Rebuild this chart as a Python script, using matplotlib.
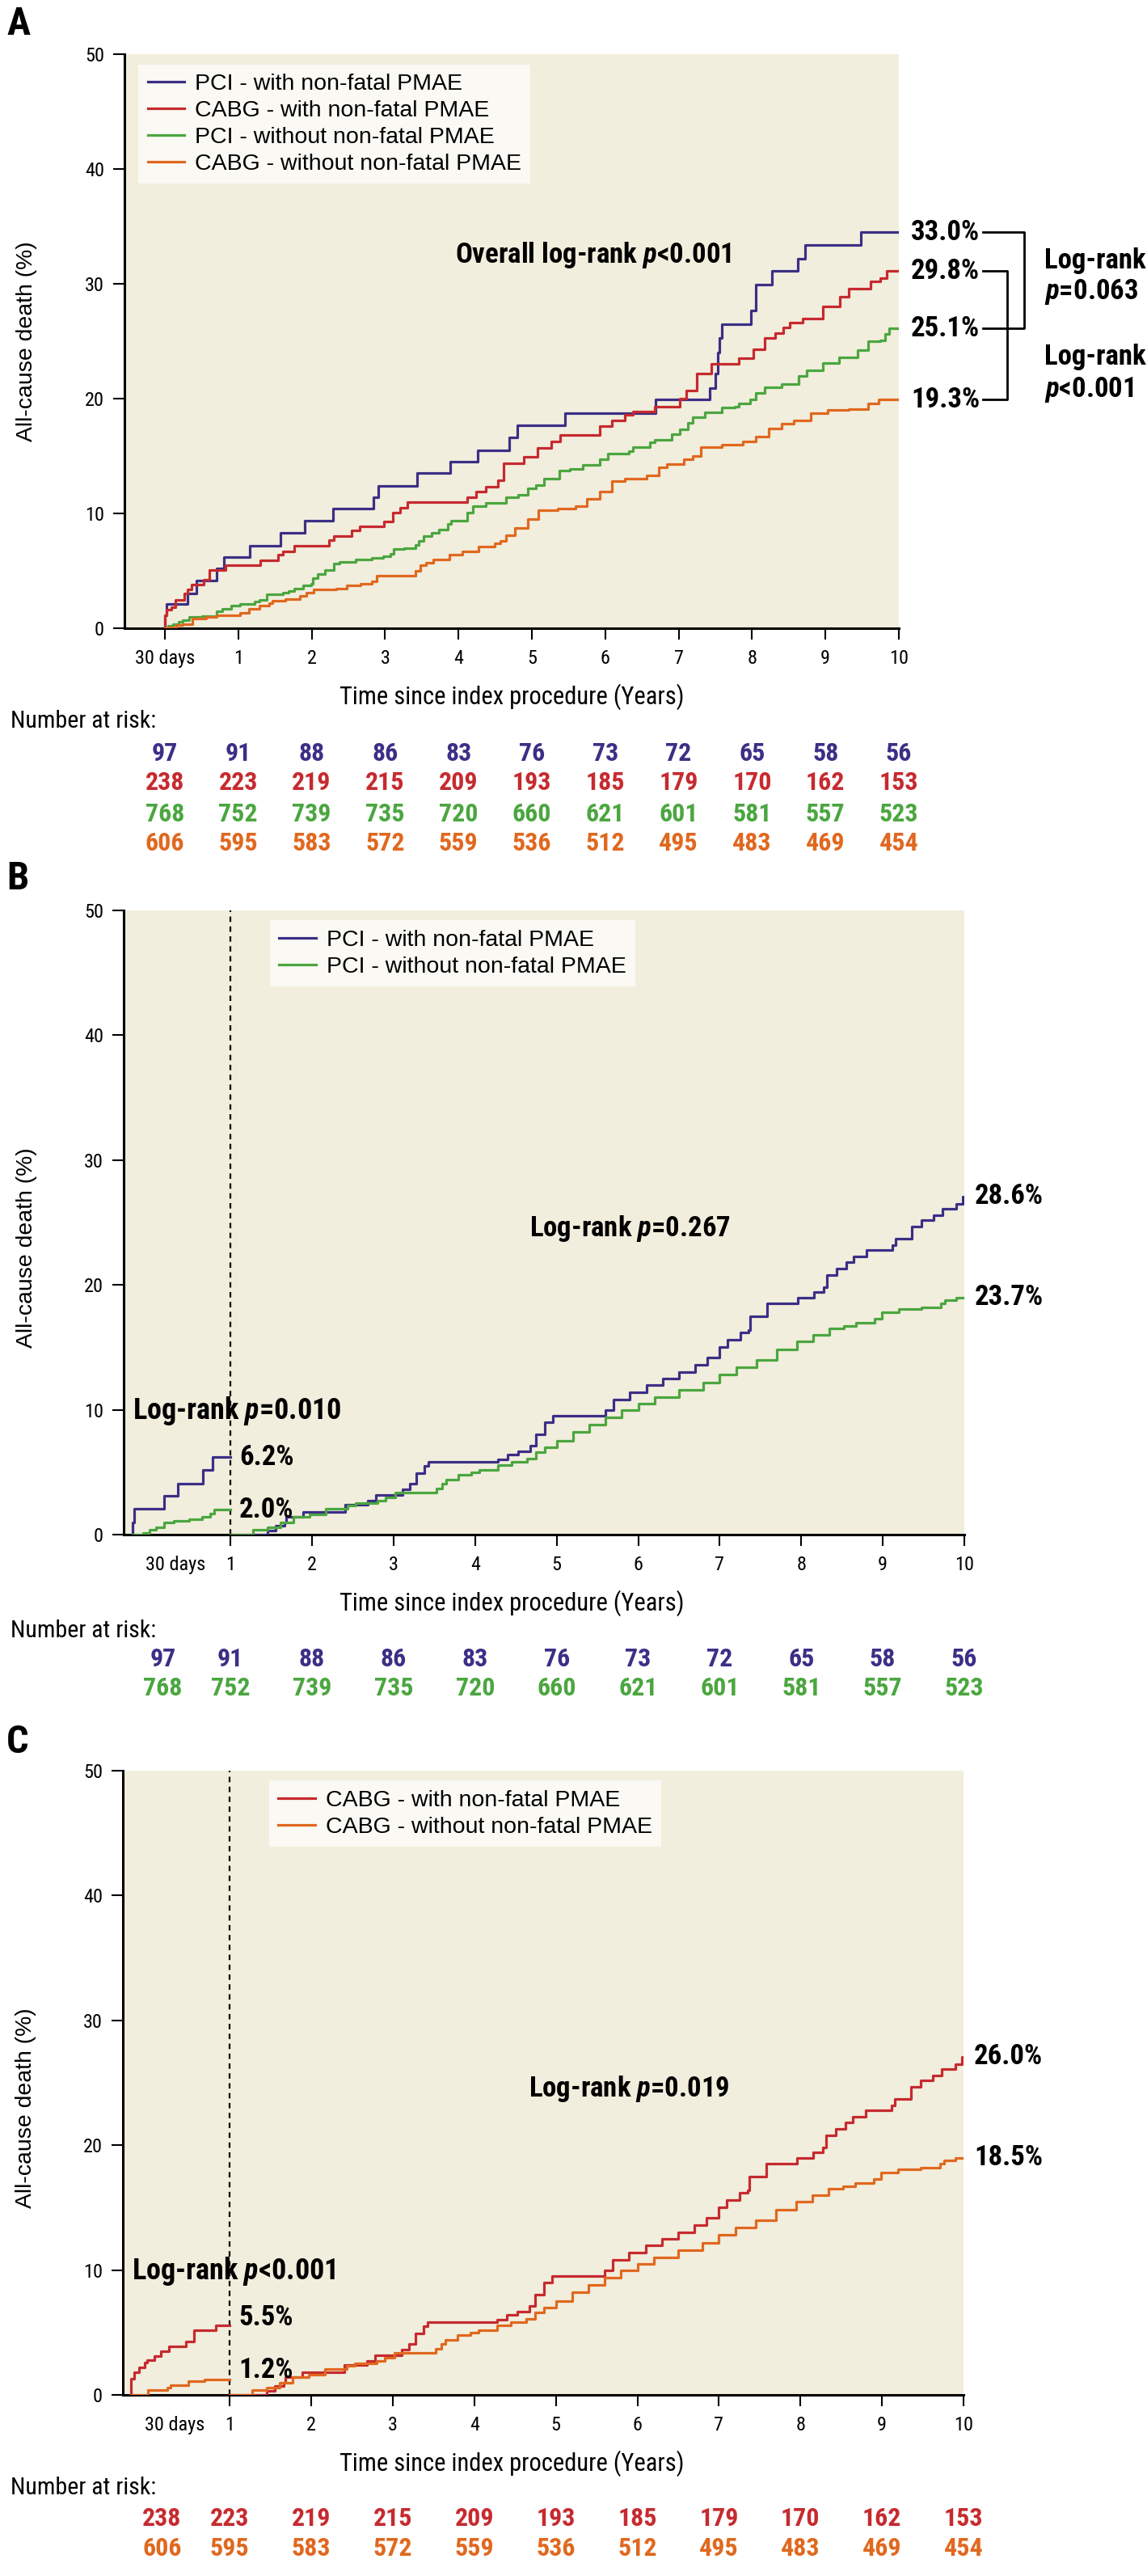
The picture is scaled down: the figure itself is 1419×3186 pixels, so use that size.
import matplotlib
matplotlib.use('Agg')
import matplotlib.pyplot as plt
from matplotlib import font_manager, transforms

installed = {f.name for f in font_manager.fontManager.ttflist}
NARROW = next((n for n in ['Liberation Sans Narrow', 'Roboto Condensed', 'Open Sans Condensed',
                           'Noto Sans Condensed', 'DejaVu Sans Condensed'] if n in installed), 'DejaVu Sans')
REGULAR = 'Liberation Sans' if 'Liberation Sans' in installed else 'DejaVu Sans'

plt.rcParams['font.family'] = [NARROW, 'DejaVu Sans']
plt.rcParams['mathtext.fontset'] = 'custom'
plt.rcParams['mathtext.it'] = NARROW + ':italic:bold'
plt.rcParams['mathtext.rm'] = NARROW + ':bold'

BLUE = '#3B2F86'
RED = '#C62A2F'
GREEN = '#4BA640'
ORANGE = '#E0681F'
BG = '#F2EEDD'
LEGBG = '#FAF9F3'

# ---- data (time in years, cumulative death %) ----
labels_all = ['PCI - with non-fatal PMAE', 'CABG - with non-fatal PMAE',
              'PCI - without non-fatal PMAE', 'CABG - without non-fatal PMAE']

# panel A, from 30 days (x=0) to 10 years
a_pci_with_t = [0.0, 0.02, 0.31, 0.43, 0.70, 0.80, 1.16, 1.58, 1.91, 2.29, 2.84, 2.91, 3.44, 3.89, 4.26,
                4.69, 4.80, 5.45, 6.68, 7.42, 7.50, 7.53, 7.56, 7.59, 7.98, 8.05, 8.27, 8.62, 8.72, 9.48]
a_pci_with_v = [1.1, 2.1, 3.0, 4.15, 5.2, 6.2, 7.2, 8.3, 9.4, 10.4, 11.4, 12.4, 13.5, 14.5, 15.5,
                16.6, 17.7, 18.7, 19.9, 20.9, 22.2, 24.0, 25.3, 26.5, 27.7, 29.9, 31.1, 32.2, 33.4, 34.5]

a_cabg_with_t = [0.0, 0.02, 0.09, 0.14, 0.26, 0.31, 0.36, 0.53, 0.61, 0.83, 1.30, 1.54, 1.61, 1.76, 2.24,
                 2.30, 2.55, 2.65, 2.98, 3.11, 3.20, 3.30, 4.12, 4.24, 4.37, 4.54, 4.62, 4.89, 5.08, 5.26,
                 5.39, 5.92, 6.09, 6.27, 6.38, 6.67, 7.02, 7.10, 7.25, 7.45, 7.82, 8.02, 8.17, 8.31, 8.43,
                 8.51, 8.69, 8.97, 9.20, 9.32, 9.61, 9.75, 9.84]
a_cabg_with_v = [1.1, 1.6, 1.8, 2.5, 3.0, 3.35, 3.8, 4.2, 5.1, 5.5, 5.9, 6.4, 6.7, 7.2, 7.7,
                 8.0, 8.5, 8.9, 9.3, 10.1, 10.5, 11.0, 11.4, 11.9, 12.3, 12.9, 14.4, 14.9, 15.7, 16.3,
                 16.8, 17.6, 18.1, 18.6, 18.9, 19.3, 20.0, 20.7, 22.2, 23.0, 23.5, 24.3, 25.3, 25.7, 26.2,
                 26.6, 27.0, 28.0, 28.9, 29.6, 30.2, 30.5, 31.1]

a_pci_wo_t = [0.04, 0.11, 0.19, 0.24, 0.33, 0.51, 0.70, 0.78, 0.90, 1.02, 1.22, 1.29, 1.39, 1.61, 1.69,
              1.76, 1.88, 1.99, 2.02, 2.08, 2.18, 2.30, 2.38, 2.60, 2.82, 2.97, 3.07, 3.12, 3.26, 3.41,
              3.46, 3.53, 3.63, 3.73, 3.85, 3.90, 4.12, 4.20, 4.37, 4.65, 4.81, 4.94, 5.06, 5.17, 5.37,
              5.52, 5.69, 5.92, 6.04, 6.32, 6.38, 6.61, 6.67, 6.90, 7.02, 7.13, 7.19, 7.36, 7.59, 7.76,
              7.82, 7.97, 8.05, 8.17, 8.40, 8.63, 8.74, 8.97, 9.18, 9.44, 9.58, 9.75, 9.81, 9.87]
a_pci_wo_v = [0.2, 0.33, 0.58, 0.7, 0.96, 1.08, 1.46, 1.71, 1.96, 2.09, 2.29, 2.47, 2.97, 3.09, 3.22,
              3.47, 3.72, 3.85, 4.35, 4.73, 5.1, 5.6, 5.8, 6.0, 6.16, 6.24, 6.5, 6.87, 7.0, 7.25,
              7.6, 8.0, 8.3, 8.6, 9.1, 9.4, 10.1, 10.6, 10.9, 11.4, 11.6, 12.2, 12.5, 13.0, 13.7,
              13.9, 14.2, 14.7, 15.2, 15.4, 15.8, 16.2, 16.4, 16.9, 17.3, 17.9, 18.4, 18.8, 19.2, 19.3,
              19.6, 19.9, 20.5, 21.0, 21.3, 22.0, 22.5, 23.1, 23.6, 24.2, 25.0, 25.1, 25.6, 26.1]

a_cabg_wo_t = [0.06, 0.16, 0.24, 0.38, 0.56, 0.70, 1.02, 1.15, 1.29, 1.42, 1.47, 1.64, 1.84, 1.93, 2.03,
               2.33, 2.48, 2.67, 2.82, 2.89, 3.41, 3.48, 3.56, 3.66, 3.88, 4.05, 4.27, 4.49, 4.57, 4.65,
               4.77, 4.94, 5.09, 5.35, 5.60, 5.75, 5.92, 6.09, 6.27, 6.56, 6.73, 6.84, 7.07, 7.19, 7.30,
               7.59, 7.88, 8.05, 8.23, 8.40, 8.57, 8.80, 9.03, 9.32, 9.58, 9.73]
a_cabg_wo_v = [0.1, 0.25, 0.38, 0.83, 0.96, 1.13, 1.33, 1.71, 1.96, 2.21, 2.39, 2.54, 2.84, 3.09, 3.35,
               3.47, 3.72, 3.85, 4.1, 4.6, 5.0, 5.5, 5.7, 6.0, 6.4, 6.7, 7.1, 7.4, 7.6, 8.1,
               8.75, 9.5, 10.3, 10.4, 10.6, 11.3, 11.9, 12.8, 13.0, 13.3, 14.0, 14.3, 14.7, 15.0, 15.8,
               16.0, 16.3, 16.7, 17.4, 17.8, 18.1, 18.7, 19.0, 19.1, 19.6, 19.9]

# panel B, first segment up to 1 year, then landmark restart at 1 year
b_with_early_t = [-0.2, -0.18, 0.19, 0.35, 0.66, 0.78]
b_with_early_v = [1.0, 2.1, 3.1, 4.1, 5.2, 6.2]
b_wo_early_t = [-0.07, 0.01, 0.09, 0.19, 0.30, 0.49, 0.65, 0.75, 0.80]
b_wo_early_v = [0.1, 0.4, 0.6, 1.0, 1.1, 1.2, 1.4, 1.7, 2.0]

b_with_late_t = [1.45, 1.55, 1.66, 1.68, 1.89, 2.41, 2.68, 2.78, 3.11, 3.20, 3.28, 3.38, 3.43, 4.28, 4.40,
                 4.53, 4.68, 4.75, 4.85, 4.95, 5.60, 5.70, 5.90, 6.10, 6.30, 6.50, 6.70, 6.85, 7.00, 7.10,
                 7.25, 7.35, 7.37, 7.58, 7.96, 8.16, 8.28, 8.31, 8.43, 8.55, 8.64, 8.80, 9.12, 9.16, 9.36,
                 9.47, 9.62, 9.73, 9.90, 9.98]
b_with_late_v = [0.3, 0.7, 1.0, 1.4, 1.8, 2.4, 2.7, 3.2, 3.6, 4.1, 4.9, 5.5, 5.8, 6.0, 6.4,
                 6.7, 7.1, 8.0, 9.0, 9.5, 10.0, 10.8, 11.4, 12.0, 12.5, 13.0, 13.6, 14.2, 15.0, 15.6,
                 16.2, 16.4, 17.5, 18.5, 19.0, 19.4, 19.8, 20.8, 21.3, 21.8, 22.3, 22.8, 23.2, 23.7, 24.7,
                 25.2, 25.6, 26.1, 26.5, 27.1]
b_wo_late_t = [1.28, 1.45, 1.61, 1.77, 1.97, 2.17, 2.44, 2.54, 2.80, 2.90, 3.02, 3.53, 3.60, 3.65, 3.79,
               3.95, 4.05, 4.28, 4.45, 4.64, 4.75, 4.85, 5.00, 5.20, 5.40, 5.60, 5.80, 6.00, 6.20, 6.50,
               6.80, 7.00, 7.20, 7.45, 7.70, 7.95, 8.15, 8.34, 8.52, 8.67, 8.90, 8.99, 9.20, 9.47, 9.71,
               9.76, 9.90]
b_wo_late_v = [0.4, 0.6, 1.0, 1.4, 1.6, 2.1, 2.3, 2.5, 2.7, 3.0, 3.4, 3.7, 4.1, 4.4, 4.8,
               5.0, 5.2, 5.6, 5.8, 6.1, 6.6, 7.0, 7.5, 8.2, 8.8, 9.4, 10.0, 10.5, 11.0, 11.6,
               12.2, 12.8, 13.4, 14.0, 14.8, 15.5, 16.0, 16.5, 16.7, 17.0, 17.3, 17.8, 18.1, 18.2, 18.5,
               18.8, 19.0]

# panel C
c_with_early_t = [-0.21, -0.17, -0.11, -0.04, -0.01, 0.08, 0.16, 0.26, 0.46, 0.56, 0.83]
c_with_early_v = [1.3, 1.8, 2.2, 2.6, 2.8, 3.1, 3.5, 3.9, 4.3, 5.2, 5.6]
c_wo_early_t = [0.0, 0.24, 0.27, 0.49, 0.69]
c_wo_early_v = [0.4, 0.6, 0.8, 1.1, 1.2]
# after 1 year the source draws the same curves as in panel B
c_with_late_t, c_with_late_v = b_with_late_t, b_with_late_v
c_wo_late_t, c_wo_late_v = b_wo_late_t, b_wo_late_v

# number at risk
risk_pci_with = [97, 91, 88, 86, 83, 76, 73, 72, 65, 58, 56]
risk_cabg_with = [238, 223, 219, 215, 209, 193, 185, 179, 170, 162, 153]
risk_pci_wo = [768, 752, 739, 735, 720, 660, 621, 601, 581, 557, 523]
risk_cabg_wo = [606, 595, 583, 572, 559, 536, 512, 495, 483, 469, 454]

end_labels_a = ['33.0%', '29.8%', '25.1%', '19.3%']

# ---- figure ----
W, H = 1419, 3186
fig = plt.figure(figsize=(W / 100, H / 100), dpi=100)


def box(l, t, r, b):
    return [l / W, 1 - b / H, (r - l) / W, (b - t) / H]


def fy(y):
    return 1 - y / H


axA = fig.add_axes(box(154, 67, 1112, 777))
axB = fig.add_axes(box(153, 1126, 1193, 1898))
axC = fig.add_axes(box(152, 2190, 1192, 2962))


def style(ax, xmin):
    ax.set_facecolor(BG)
    ax.set_xlim(xmin, 10)
    ax.set_ylim(0, 50)
    for s in ('top', 'right'):
        ax.spines[s].set_visible(False)
    for s in ('left', 'bottom'):
        ax.spines[s].set_linewidth(2.2)
    ax.set_yticks(range(0, 51, 10))
    ax.tick_params(length=10, width=1.5, labelsize=17.5, direction='out')
    ax.tick_params(axis='x', pad=9)
    ax.tick_params(axis='y', pad=8)
    ax.set_ylabel('All-cause death (%)', family=REGULAR, fontsize=20.4)


def km(ax, t0, t, v, t1, color, label=None):
    x = [t0] + list(t) + [t1]
    y = [0] + list(v) + [v[-1]]
    line, = ax.step(x, y, where='post', color=color, lw=2.3, label=label, zorder=3)
    return line


def legend(ax, x, y):
    ax.legend(loc='upper left', bbox_to_anchor=(x, y), borderaxespad=0, frameon=True,
              fancybox=False, facecolor=LEGBG, edgecolor='none', framealpha=1,
              prop={'family': REGULAR, 'size': 20.5}, handlelength=1.6, handletextpad=0.45,
              labelspacing=0.24, borderpad=0.4)


def risk_rows(ax, xs, rows, ys):
    tr = transforms.blended_transform_factory(ax.transData, fig.transFigure)
    for (vals, color), y in zip(rows, ys):
        for x, n in zip(xs, vals):
            ax.text(x, fy(y), str(n), transform=tr, ha='center', va='center', color=color,
                    fontsize=23, fontweight='bold', clip_on=False)


BOLD = dict(fontweight='bold', color='black')

# ---- panel A ----
style(axA, -0.55)
axA.set_xticks(range(11))
axA.set_xticklabels(['30 days'] + [str(i) for i in range(1, 11)])
curvesA = [(a_pci_with_t, a_pci_with_v, BLUE), (a_cabg_with_t, a_cabg_with_v, RED),
           (a_pci_wo_t, a_pci_wo_v, GREEN), (a_cabg_wo_t, a_cabg_wo_v, ORANGE)]
for (t, v, c), lab in zip(curvesA, labels_all):
    km(axA, 0, t, v, 10, c, lab)
legend(axA, 0.018, 0.982)
axA.yaxis.set_label_coords(-0.113, 0.5)

offA = transforms.offset_copy(axA.transData, fig, x=15, y=0, units='dots')
ends = [c[1][-1] for c in curvesA]
for val, txt in zip(ends, end_labels_a):
    axA.text(10, val, txt, transform=offA, ha='left', va='center', fontsize=25, clip_on=False, **BOLD)

brA = transforms.blended_transform_factory(fig.transFigure, axA.transData)
x1, x2, x3 = (1112 + 104) / W, (1112 + 155) / W, (1112 + 134) / W
axA.plot([x1, x2, x2, x1], [ends[0], ends[0], ends[2], ends[2]], color='black', lw=2.0,
         transform=brA, clip_on=False)
axA.plot([x1, x3, x3, x1], [ends[1], ends[1], ends[3], ends[3]], color='black', lw=2.0,
         transform=brA, clip_on=False)
xt = 1292 / W
axA.text(xt, 32.0, 'Log-rank', transform=brA, ha='left', va='center', fontsize=25, **BOLD)
axA.text(xt, 29.3, r'$\mathit{p}$=0.063', transform=brA, ha='left', va='center', fontsize=25, **BOLD)
axA.text(xt, 23.6, 'Log-rank', transform=brA, ha='left', va='center', fontsize=25, **BOLD)
axA.text(xt, 20.8, r'$\mathit{p}$<0.001', transform=brA, ha='left', va='center', fontsize=25, **BOLD)
axA.text(3.95, 32.5, r'Overall log-rank $\mathit{p}$<0.001', ha='left', va='center', fontsize=25, **BOLD)

fig.text(8 / W, fy(30), 'A', ha='left', va='center', fontsize=35, fontweight='bold')
fig.text(633 / W, fy(862), 'Time since index procedure (Years)', ha='center', va='center', fontsize=22)
fig.text(13 / W, fy(892), 'Number at risk:', ha='left', va='center', fontsize=21.5)
risk_rows(axA, range(11), [(risk_pci_with, BLUE), (risk_cabg_with, RED),
                           (risk_pci_wo, GREEN), (risk_cabg_wo, ORANGE)], [932, 968, 1007, 1043])


# ---- panels B and C ----
def landmark_panel(ax, letter, ly, early, late, colors, labs, first_logrank, late_logrank,
                   early_labels, end_labels, rows, row_y, xlab_y, nar_y):
    style(ax, -0.31)
    ax.set_xticks([0.33] + list(range(1, 11)))
    ax.set_xticklabels(['30 days'] + [str(i) for i in range(1, 11)])
    ax.xaxis.get_major_ticks()[0].tick1line.set_visible(False)
    ax.axvline(1, color='black', lw=1.6, ls=(0, (3, 2.5)), zorder=2)
    t_start = early[0][0][0]
    for (t, v), (tl, vl), c, lab in zip(early, late, colors, labs):
        km(ax, t_start, t, v, 1.0, c, lab)
        km(ax, 1.0, tl, vl, 10, c)
    legend(ax, 0.174, 0.984)
    ax.yaxis.set_label_coords(-0.103, 0.46)
    ax.text(-0.2, 9.9, first_logrank, ha='left', va='center', fontsize=26, **BOLD)
    ax.text(1.11, 6.2, early_labels[0], ha='left', va='center', fontsize=25, **BOLD)
    ax.text(1.11, 2.0, early_labels[1], ha='left', va='center', fontsize=25, **BOLD)
    ax.text(5.9, 24.5, late_logrank, ha='center', va='center', fontsize=25, **BOLD)
    off = transforms.offset_copy(ax.transData, fig, x=13, y=0, units='dots')
    for (tl, vl), txt in zip(late, end_labels):
        ax.text(10, vl[-1], txt, transform=off, ha='left', va='center', fontsize=25,
                clip_on=False, **BOLD)
    fig.text(8 / W, fy(ly), letter, ha='left', va='center', fontsize=35, fontweight='bold')
    fig.text(633 / W, fy(xlab_y), 'Time since index procedure (Years)', ha='center', va='center',
             fontsize=22)
    fig.text(13 / W, fy(nar_y), 'Number at risk:', ha='left', va='center', fontsize=21.5)
    risk_rows(ax, [0.17] + list(range(1, 11)), rows, row_y)


landmark_panel(axB, 'B', 1087,
               [(b_with_early_t, b_with_early_v), (b_wo_early_t, b_wo_early_v)],
               [(b_with_late_t, b_with_late_v), (b_wo_late_t, b_wo_late_v)],
               [BLUE, GREEN], [labels_all[0], labels_all[2]],
               r'Log-rank $\mathit{p}$=0.010', r'Log-rank $\mathit{p}$=0.267',
               ['6.2%', '2.0%'], ['28.6%', '23.7%'],
               [(risk_pci_with, BLUE), (risk_pci_wo, GREEN)], [2052, 2088], 1983, 2017)

landmark_panel(axC, 'C', 2155,
               [(c_with_early_t, c_with_early_v), (c_wo_early_t, c_wo_early_v)],
               [(c_with_late_t, c_with_late_v), (c_wo_late_t, c_wo_late_v)],
               [RED, ORANGE], [labels_all[1], labels_all[3]],
               r'Log-rank $\mathit{p}$<0.001', r'Log-rank $\mathit{p}$=0.019',
               ['5.5%', '1.2%'], ['26.0%', '18.5%'],
               [(risk_cabg_with, RED), (risk_cabg_wo, ORANGE)], [3115, 3152], 3047, 3077)

fig.savefig('out.png', dpi=100)
